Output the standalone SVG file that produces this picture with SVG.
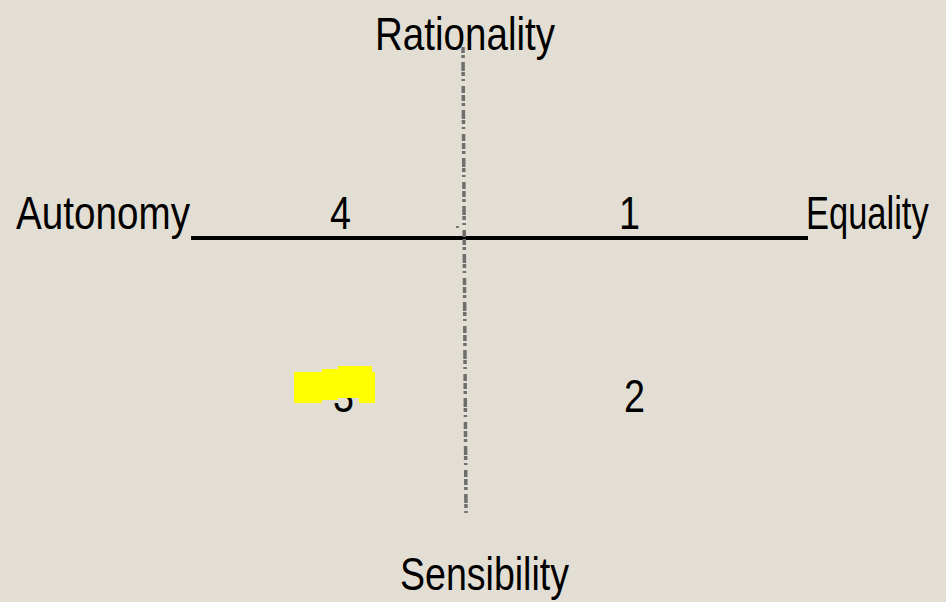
<svg xmlns="http://www.w3.org/2000/svg" width="946" height="602" viewBox="0 0 946 602">
<style>
.t{font-family:"Liberation Sans",Arial,sans-serif;font-size:46px;fill:#000;}
</style>
<rect width="946" height="602" fill="#e3ded3"/>
<g id="axes">
<line x1="191" y1="238" x2="808" y2="238" stroke="#000" stroke-width="4"/>
<line x1="463" y1="47" x2="466" y2="513" stroke="#6e6e6e" stroke-width="3.5" stroke-dasharray="6 2 3 4 9 1 4 3 2 5 7 2"/>
<rect x="456" y="226" width="3" height="2" fill="#777"/>
</g>
<g id="label-rationality"><text class="t" x="375" y="50" textLength="180" lengthAdjust="spacingAndGlyphs">Rationality</text></g>
<g id="label-autonomy"><text class="t" x="16" y="229" textLength="174" lengthAdjust="spacingAndGlyphs">Autonomy</text></g>
<g id="label-equality"><text class="t" transform="translate(806,229) scale(0.75,1)" x="0" y="0">Equality</text></g>
<g id="label-sensibility"><text class="t" x="400" y="590" textLength="169" lengthAdjust="spacingAndGlyphs">Sensibility</text></g>
<g id="q4"><text class="t" x="330" y="229" textLength="21" lengthAdjust="spacingAndGlyphs">4</text></g>
<g id="q1"><text class="t" x="619" y="229" textLength="21" lengthAdjust="spacingAndGlyphs">1</text></g>
<g id="q2"><text class="t" x="624" y="412" textLength="21" lengthAdjust="spacingAndGlyphs">2</text></g>
<g id="q3"><text class="t" x="333" y="412" textLength="21" lengthAdjust="spacingAndGlyphs">3</text>
<polygon points="294,372 322,372 322,369 338,369 338,366 372,366 372,372 375,372 375,403 359,403 359,398 338,398 338,400 322,400 322,403 294,403" fill="#ffff00"/></g>
</svg>
